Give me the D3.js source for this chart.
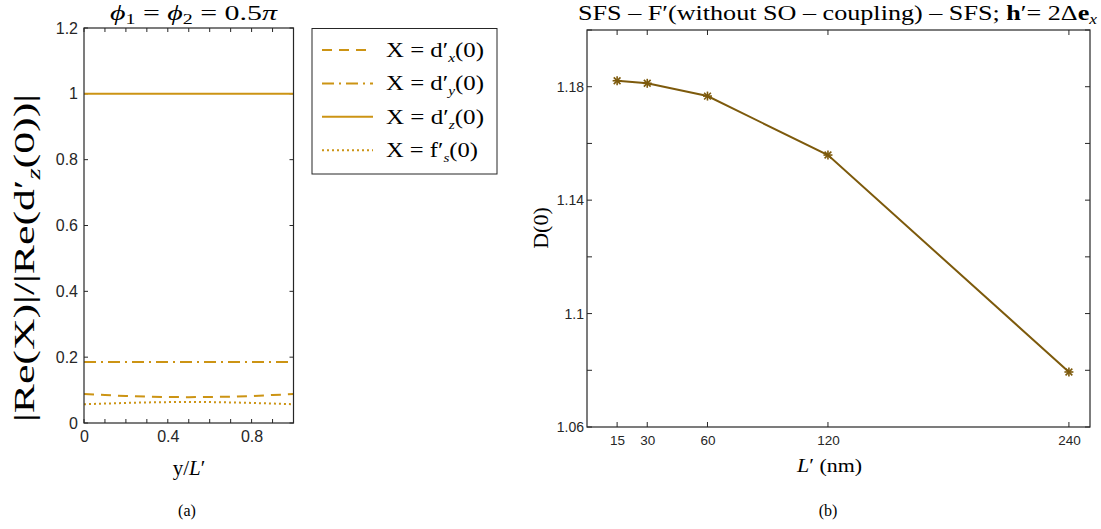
<!DOCTYPE html>
<html><head><meta charset="utf-8">
<script src="https://cdn.jsdelivr.net/npm/d3@7/dist/d3.min.js"></script>
<style>
body{margin:0;background:#fff;}
svg{display:block;}
.tick text{font-family:"Liberation Sans",Arial,sans-serif;}
.serif{font-family:"Liberation Serif","Times New Roman",serif;}
</style></head>
<body>
<svg id="c" width="1101" height="529"></svg>
<script>
// ---- Data: panel (a) ----
const yOverL = [0, 0.1, 0.2, 0.3, 0.4, 0.5, 0.6, 0.7, 0.8, 0.9, 1.0];
const dxVals = [0.088, 0.085, 0.082, 0.080, 0.079, 0.0785, 0.079, 0.080, 0.082, 0.085, 0.088];
const dyVals = [0.185, 0.185, 0.185, 0.185, 0.185, 0.185, 0.185, 0.185, 0.185, 0.185, 0.185];
const dzVals = [1, 1, 1, 1, 1, 1, 1, 1, 1, 1, 1];
const fsVals = [0.057, 0.059, 0.061, 0.0625, 0.0635, 0.064, 0.0635, 0.0625, 0.061, 0.059, 0.057];
const aXTicks = [0, 0.4, 0.8];
const aXMinor = [0,0.1,0.2,0.3,0.4,0.5,0.6,0.7,0.8,0.9,1.0];
const aYTicks = [0, 0.2, 0.4, 0.6, 0.8, 1, 1.2];

// ---- Data: panel (b) ----
const lengths = [15, 30, 60, 120, 240];
const d0Vals = [1.1821, 1.1812, 1.1767, 1.1559, 1.0794];
const bYTicks = [1.06, 1.1, 1.14, 1.18];
const bYMinor = [1.06, 1.08, 1.1, 1.12, 1.14, 1.16, 1.18, 1.2];

const svg = d3.select("#c");
const axisCol = "#262626";
const gold = "#cc9414";
const brown = "#7d5a0c";

function frame(g, x0, x1, y0, y1){
  g.append("rect").attr("x",x0).attr("y",y0).attr("width",x1-x0).attr("height",y1-y0)
    .attr("fill","none").attr("stroke",axisCol).attr("stroke-width",1.2);
}
function fit(sel, len, mode){
  return sel.attr("textLength",len).attr("lengthAdjust",mode || "spacingAndGlyphs");
}

// ================= Panel (a) =================
const ax = d3.scaleLinear().domain([0,1]).range([84,293.5]);
const ay = d3.scaleLinear().domain([0,1.2]).range([423,28]);
const ga = svg.append("g");

const tl = 4;
aXMinor.forEach(v=>{
  ga.append("line").attr("x1",ax(v)).attr("x2",ax(v)).attr("y1",ay(0)).attr("y2",ay(0)-tl).attr("stroke",axisCol);
  ga.append("line").attr("x1",ax(v)).attr("x2",ax(v)).attr("y1",ay(1.2)).attr("y2",ay(1.2)+tl).attr("stroke",axisCol);
});
aYTicks.forEach(v=>{
  ga.append("line").attr("x1",ax(0)).attr("x2",ax(0)+tl).attr("y1",ay(v)).attr("y2",ay(v)).attr("stroke",axisCol);
  ga.append("line").attr("x1",ax(1)).attr("x2",ax(1)-tl).attr("y1",ay(v)).attr("y2",ay(v)).attr("stroke",axisCol);
});
const xAxA = ga.append("g").attr("transform",`translate(0,${ay(0)})`)
  .call(d3.axisBottom(ax).tickValues(aXTicks).tickSize(0).tickPadding(8).tickFormat(d3.format("~g")));
xAxA.select(".domain").remove();
xAxA.selectAll("text").attr("font-size",16).attr("fill",axisCol);
const yAxA = ga.append("g").attr("transform",`translate(${ax(0)},0)`)
  .call(d3.axisLeft(ay).tickValues(aYTicks).tickSize(0).tickPadding(6).tickFormat(d3.format("~g")));
yAxA.select(".domain").remove();
yAxA.selectAll("text").attr("font-size",16).attr("fill",axisCol);

const lineA = vals => d3.line().x((d,i)=>ax(yOverL[i])).y(d=>ay(d))(vals);
const seriesA = [
  {vals:dxVals, dash:"10,7"},
  {vals:dyVals, dash:"12,5,2,5"},
  {vals:dzVals, dash:null},
  {vals:fsVals, dash:"2,3"}
];
seriesA.forEach(s=>{
  ga.append("path").attr("d",lineA(s.vals)).attr("fill","none").attr("stroke",gold)
    .attr("stroke-width",2).attr("stroke-dasharray",s.dash);
});
frame(ga, ax(0), ax(1), ay(1.2), ay(0));

// title
fit(ga.append("text").attr("class","serif").attr("x",110).attr("y",20)
  .attr("font-size",21).attr("fill","#000")
  .html('<tspan font-style="italic">ϕ</tspan><tspan font-size="14" dy="4">1</tspan><tspan dy="-4"> = </tspan><tspan font-style="italic">ϕ</tspan><tspan font-size="14" dy="4">2</tspan><tspan dy="-4"> = 0.5</tspan><tspan font-style="italic">π</tspan>'), 167);
// y label
fit(ga.append("text").attr("class","serif").attr("transform","translate(34,422) rotate(-90)")
  .attr("font-size",29).attr("fill","#000")
  .html('|Re(X)|/|Re(d′<tspan font-size="19" font-style="italic" dy="6">z</tspan><tspan dy="-6">(0))|</tspan>'), 328);
// x label
ga.append("text").attr("class","serif").attr("x",189).attr("y",475).attr("text-anchor","middle")
  .attr("font-size",21).attr("fill","#000")
  .html('y/<tspan font-style="italic">L</tspan>′');
ga.append("text").attr("class","serif").attr("x",187).attr("y",516).attr("text-anchor","middle")
  .attr("font-size",16).attr("fill","#000").text("(a)");

// legend
const lg = svg.append("g");
lg.append("rect").attr("x",312).attr("y",28.5).attr("width",185).attr("height",145.5)
  .attr("fill","#fff").attr("stroke",axisCol).attr("stroke-width",1);
const legendLabels = [
  'X = d′<tspan font-size="13" font-style="italic" dy="5">x</tspan><tspan dy="-5">(0)</tspan>',
  'X = d′<tspan font-size="13" font-style="italic" dy="5">y</tspan><tspan dy="-5">(0)</tspan>',
  'X = d′<tspan font-size="13" font-style="italic" dy="5">z</tspan><tspan dy="-5">(0)</tspan>',
  'X = f′<tspan font-size="13" font-style="italic" dy="5">s</tspan><tspan dy="-5">(0)</tspan>'
];
const legendLens = [98, 98, 98, 92];
seriesA.forEach((s,i)=>{
  const yy = 50 + i*33.4;
  lg.append("line").attr("x1",322).attr("x2",373).attr("y1",yy).attr("y2",yy)
    .attr("stroke",gold).attr("stroke-width",2).attr("stroke-dasharray",s.dash);
  fit(lg.append("text").attr("class","serif").attr("x",386).attr("y",yy+7).attr("font-size",21)
    .attr("fill","#000").html(legendLabels[i]), legendLens[i]);
});

// ================= Panel (b) =================
const bx = d3.scaleLinear().domain([0,250.5]).range([587,1090]);
const by = d3.scaleLinear().domain([1.06,1.2]).range([427,30]);
const gb = svg.append("g");
lengths.forEach(v=>{
  gb.append("line").attr("x1",bx(v)).attr("x2",bx(v)).attr("y1",by(1.06)).attr("y2",by(1.06)-5).attr("stroke",axisCol);
  gb.append("line").attr("x1",bx(v)).attr("x2",bx(v)).attr("y1",by(1.2)).attr("y2",by(1.2)+5).attr("stroke",axisCol);
});
bYMinor.forEach(v=>{
  gb.append("line").attr("x1",bx(0)).attr("x2",bx(0)+5).attr("y1",by(v)).attr("y2",by(v)).attr("stroke",axisCol);
  gb.append("line").attr("x1",bx(250.5)).attr("x2",bx(250.5)-5).attr("y1",by(v)).attr("y2",by(v)).attr("stroke",axisCol);
});
const xAxB = gb.append("g").attr("transform",`translate(0,${by(1.06)})`)
  .call(d3.axisBottom(bx).tickValues(lengths).tickSize(0).tickPadding(8));
xAxB.select(".domain").remove();
xAxB.selectAll("text").attr("font-size",13.5).attr("fill",axisCol);
const yAxB = gb.append("g").attr("transform",`translate(${bx(0)},0)`)
  .call(d3.axisLeft(by).tickValues(bYTicks).tickSize(0).tickPadding(3).tickFormat(d3.format("~g")));
yAxB.select(".domain").remove();
yAxB.selectAll("text").attr("font-size",14).attr("fill",axisCol);

gb.append("path").attr("d", d3.line().x((d,i)=>bx(lengths[i])).y(d=>by(d))(d0Vals))
  .attr("fill","none").attr("stroke",brown).attr("stroke-width",2);
const r = 4.5, rd = r*0.75;
d0Vals.forEach((d,i)=>{
  const cx = bx(lengths[i]), cy = by(d);
  const m = gb.append("g").attr("stroke",brown).attr("stroke-width",1.6);
  m.append("line").attr("x1",cx-r).attr("x2",cx+r).attr("y1",cy).attr("y2",cy);
  m.append("line").attr("x1",cx).attr("x2",cx).attr("y1",cy-r).attr("y2",cy+r);
  m.append("line").attr("x1",cx-rd).attr("x2",cx+rd).attr("y1",cy-rd).attr("y2",cy+rd);
  m.append("line").attr("x1",cx-rd).attr("x2",cx+rd).attr("y1",cy+rd).attr("y2",cy-rd);
});
frame(gb, bx(0), bx(250.5), by(1.2), by(1.06));

fit(gb.append("text").attr("class","serif").attr("x",578).attr("y",20)
  .attr("font-size",21).attr("fill","#000")
  .html('SFS – F′(without SO – coupling) – SFS; <tspan font-weight="bold">h</tspan>′= 2Δ<tspan font-weight="bold">e</tspan><tspan font-size="14" font-style="italic" dy="4">x</tspan>'), 519);
gb.append("text").attr("class","serif").attr("transform","translate(548,228) rotate(-90)")
  .attr("text-anchor","middle").attr("font-size",22).attr("fill","#000").text("D(0)");
fit(gb.append("text").attr("class","serif").attr("x",797).attr("y",472)
  .attr("font-size",19).attr("fill","#000")
  .html('<tspan font-style="italic">L</tspan>′ (nm)'), 65);
gb.append("text").attr("class","serif").attr("x",828).attr("y",516).attr("text-anchor","middle")
  .attr("font-size",16).attr("fill","#000").text("(b)");
</script>
</body></html>
